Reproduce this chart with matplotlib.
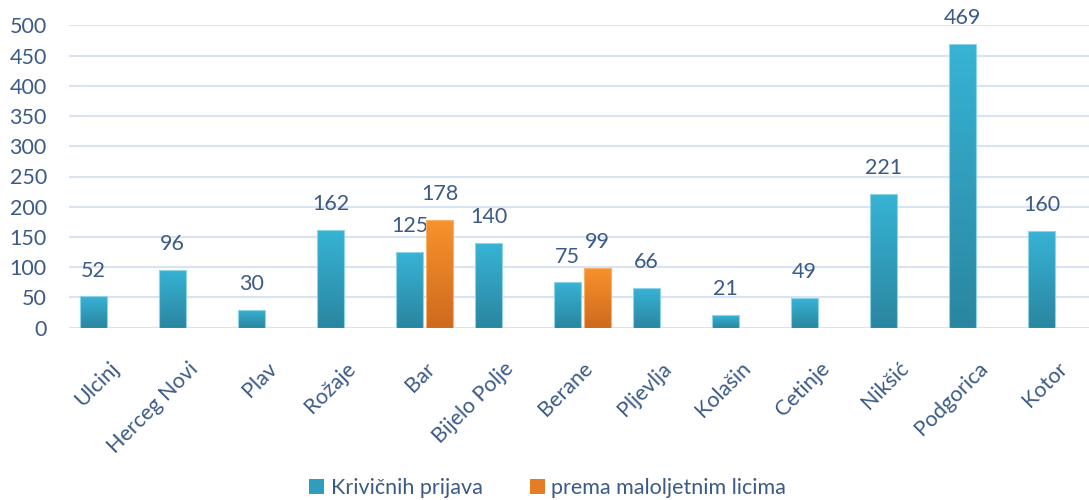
import numpy as np
import matplotlib.pyplot as plt
from matplotlib.colors import LinearSegmentedColormap

plt.rcParams['font.family'] = ['Lato', 'DejaVu Sans']

cities = ['Ulcinj', 'Herceg Novi', 'Plav', 'Rožaje', 'Bar', 'Bijelo Polje', 'Berane',
          'Pljevlja', 'Kolašin', 'Cetinje', 'Nikšić', 'Podgorica', 'Kotor']
krivicnih = [52, 96, 30, 162, 125, 140, 75, 66, 21, 49, 221, 469, 160]
maloljetni = [None, None, None, None, 178, None, 99, None, None, None, None, None, None]

text_c = '#3B5A86'
grid_c = '#D9E4F2'
blue_cm = LinearSegmentedColormap.from_list('b', ['#37B3D5', '#2A86A0'])
orange_cm = LinearSegmentedColormap.from_list('o', ['#F8922C', '#CE6A1E'])

fig = plt.figure(figsize=(10.89, 5), dpi=100)
ax = fig.add_axes([0.0634, 0.3446, 0.9366, 0.6048])

w = 0.34
off = 0.19
grad = np.linspace(0, 1, 100).reshape(-1, 1)


def grad_bar(x, h, cmap):
    # bar with vertical gradient, top light -> bottom dark
    rect = ax.bar(x, h, width=w, color='none', edgecolor='#8FD3E8' if cmap is blue_cm else '#F9B06A',
                  linewidth=0.8, zorder=3)[0]
    im = ax.imshow(grad, cmap=cmap, aspect='auto', extent=(x - w / 2, x + w / 2, 0, h),
                   zorder=2, interpolation='bilinear')
    im.set_clip_path(rect)
    ax.text(x, h + 26, str(h), ha='center', va='bottom', fontsize=15.5, color=text_c)


for i, v in enumerate(krivicnih):
    grad_bar(i - off, v, blue_cm)
for i, v in enumerate(maloljetni):
    if v is not None:
        grad_bar(i + off, v, orange_cm)

ax.set_xlim(-0.5, 12.41)
ax.set_ylim(0, 500)
ax.set_yticks(range(0, 501, 50))
ax.yaxis.grid(True, color=grid_c, linewidth=1.5, zorder=0)
ax.set_axisbelow(True)
for s in ax.spines.values():
    s.set_visible(False)
ax.tick_params(axis='y', length=0, labelsize=15.5, labelcolor=text_c, pad=16)
ax.set_xticks(range(len(cities)))
ax.set_xticklabels(cities, rotation=45, ha='right', rotation_mode='anchor', fontsize=15.5, color=text_c)
ax.tick_params(axis='x', length=0, pad=22)

handles = [plt.Rectangle((0, 0), 1, 1, facecolor='#2F9DBD'),
           plt.Rectangle((0, 0), 1, 1, facecolor='#E57D25')]
fig.legend(handles, ['Krivičnih prijava', 'prema maloljetnim licima'], loc='lower center',
           bbox_to_anchor=(0.503, -0.035), ncol=2, frameon=False, fontsize=15.5,
           labelcolor=text_c, handlelength=0.7, handleheight=0.7, handletextpad=0.3,
           columnspacing=2.2)

fig.savefig('out.png', dpi=100)
